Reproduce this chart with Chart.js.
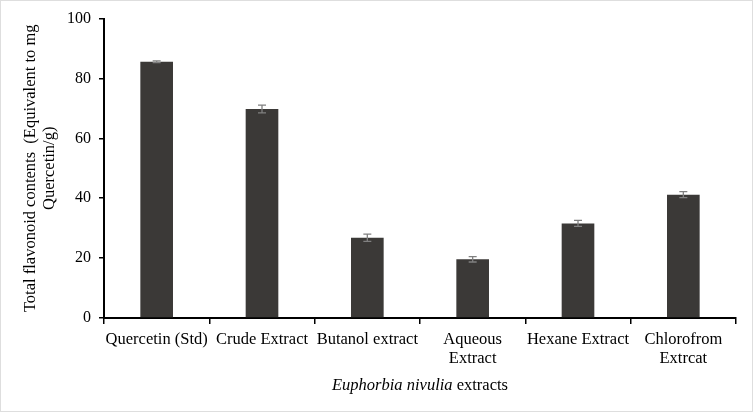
<!DOCTYPE html>
<html><head><meta charset="utf-8">
<script src="https://cdn.jsdelivr.net/npm/chart.js@4/dist/chart.umd.min.js"></script>
<style>
html,body{margin:0;padding:0;background:#fff;}
#wrap{position:relative;width:753px;height:412px;box-sizing:border-box;border:1px solid #dedede;}
canvas{display:block;}
</style></head><body>
<div id="wrap"><canvas id="c" width="751" height="410"></canvas></div>
<script>
const categories = ["Quercetin (Std)", "Crude Extract", "Butanol extract", ["Aqueous", "Extract"], "Hexane Extract", ["Chlorofrom", "Extrcat"]];
const values = [85.6, 69.8, 26.8, 19.6, 31.6, 41.2];
const errors = [0.3, 1.3, 1.2, 0.9, 1.0, 1.0];
const yTicks = [0, 20, 40, 60, 80, 100];
const yTitle = ["Total flavonoid contents  (Equivalent to mg", "Quercetin/g)"];
const xTitleItalic = "Euphorbia nivulia";
const xTitleRest = " extracts";

const font = "'Liberation Serif', 'Times New Roman', serif";

const errorBars = {
  id: 'errorBars',
  afterDatasetsDraw(chart) {
    const ctx = chart.ctx;
    const meta = chart.getDatasetMeta(0);
    const y = chart.scales.y;
    ctx.save();
    ctx.strokeStyle = '#808080';
    ctx.lineWidth = 1.3;
    meta.data.forEach((bar, i) => {
      const x = bar.x;
      const top = y.getPixelForValue(values[i] + errors[i]);
      const bot = y.getPixelForValue(values[i] - errors[i]);
      ctx.beginPath();
      ctx.moveTo(x, top); ctx.lineTo(x, bot);
      ctx.moveTo(x - 4, top); ctx.lineTo(x + 4, top);
      ctx.moveTo(x - 4, bot); ctx.lineTo(x + 4, bot);
      ctx.stroke();
    });
    ctx.restore();
  }
};

const xTitle = {
  id: 'xTitle',
  afterDraw(chart) {
    const ctx = chart.ctx;
    const ca = chart.chartArea;
    const cx = (ca.left + ca.right) / 2;
    const yy = ca.bottom + 68;
    ctx.save();
    ctx.fillStyle = '#000';
    ctx.textBaseline = 'middle';
    ctx.font = "italic 16.5px " + font;
    const w1 = ctx.measureText(xTitleItalic).width;
    ctx.font = "16.5px " + font;
    const w2 = ctx.measureText(xTitleRest).width;
    const start = cx - (w1 + w2) / 2;
    ctx.textAlign = 'left';
    ctx.font = "italic 16.5px " + font;
    ctx.fillText(xTitleItalic, start, yy);
    ctx.font = "16.5px " + font;
    ctx.fillText(xTitleRest, start + w1, yy);
    ctx.restore();
  }
};

new Chart(document.getElementById('c'), {
  type: 'bar',
  data: {
    labels: categories,
    datasets: [{
      data: values,
      backgroundColor: '#3b3937',
      borderWidth: 0,
      barPercentage: 0.62,
      categoryPercentage: 0.5
    }]
  },
  options: {
    responsive: false,
    animation: false,
    events: [],
    layout: { padding: { left: 0, right: 16, top: 17, bottom: 0 } },
    plugins: { legend: { display: false }, tooltip: { enabled: false } },
    scales: {
      x: {
        grid: { display: true, drawOnChartArea: false, color: '#000', tickLength: 6, tickColor: '#000', lineWidth: 1.5, offset: true },
        border: { display: true, color: '#000', width: 2 },
        ticks: { color: '#000', font: { family: font, size: 16.5, lineHeight: 1.17 }, maxRotation: 0, autoSkip: false, padding: 6 },
        afterFit(s) { s.height = 93; }
      },
      y: {
        min: 0, max: 100,
        afterBuildTicks(s) { s.ticks = yTicks.map(v => ({ value: v })); },
        grid: { display: true, drawOnChartArea: false, tickLength: 5, tickColor: '#000', lineWidth: 1.5 },
        border: { display: true, color: '#000', width: 2 },
        ticks: { color: '#000', font: { family: font, size: 16 }, padding: 8 },
        title: { display: true, text: yTitle, color: '#000', font: { family: font, size: 16.5, lineHeight: 1.1 }, padding: { top: 21, bottom: 4 } },
        afterFit(s) { s.width = 103; }
      }
    }
  },
  plugins: [errorBars, xTitle]
});
</script>
</body></html>
